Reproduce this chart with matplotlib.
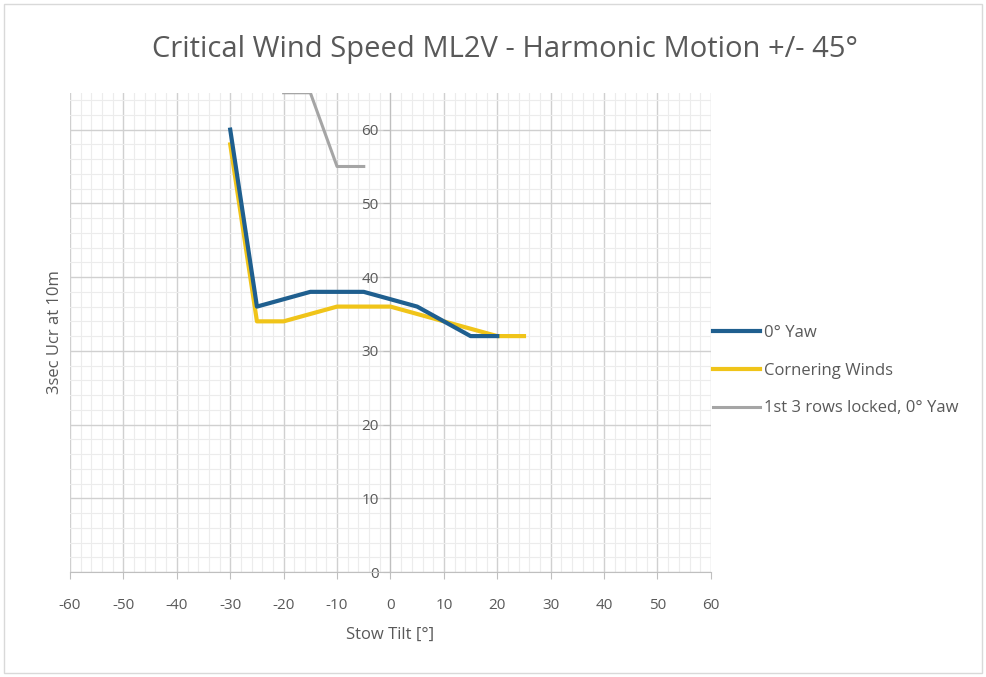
import matplotlib
matplotlib.use("Agg")
import matplotlib.pyplot as plt
from matplotlib.patches import Rectangle

plt.rcParams['font.family'] = ['Open Sans', 'DejaVu Sans']
plt.rcParams['axes.unicode_minus'] = False

yaw0_x = [-30, -25, -15, -5, 5, 15, 20]
yaw0_y = [60, 36, 38, 38, 36, 32, 32]
corner_x = [-30, -25, -20, -10, 0, 10, 20, 25]
corner_y = [58, 34, 34, 36, 36, 34, 32, 32]
locked_x = [-20, -15, -10, -5]
locked_y = [65, 65, 55, 55]

xticks = list(range(-60, 61, 10))
yticks = list(range(0, 61, 10))

fig = plt.figure(figsize=(9.86, 6.77), dpi=100)
fig.patches.append(Rectangle((0.004, 0.006), 0.992, 0.988, transform=fig.transFigure,
                             fill=False, edgecolor='#d9d9d9', linewidth=1))
ax = fig.add_axes([0.071, 0.155, 0.650, 0.708])

ax.plot(yaw0_x, yaw0_y, color='#1F5F8F', lw=3, label="0° Yaw", zorder=4)
ax.plot(corner_x, corner_y, color='#F0C419', lw=3, label="Cornering Winds", zorder=3)
ax.plot(locked_x, locked_y, color='#A5A5A5', lw=2.2, label="1st 3 rows locked, 0° Yaw", zorder=3)

ax.set_xlim(-60, 60)
ax.set_ylim(0, 65)
ax.set_xticks(xticks)
ax.set_yticks(yticks)
ax.set_xticks(range(-60, 61, 2), minor=True)
ax.set_yticks(range(0, 66, 2), minor=True)
ax.grid(which='major', color='#d0d0d0', lw=1)
ax.grid(which='minor', color='#ececec', lw=0.8)
ax.set_axisbelow(True)

for s in ['top', 'right']:
    ax.spines[s].set_visible(False)
ax.spines['left'].set_position(('data', 0))
ax.spines['bottom'].set_position(('data', 0))
ax.spines['left'].set_color('#bfbfbf')
ax.spines['bottom'].set_color('#bfbfbf')
ax.tick_params(which='major', colors='#bfbfbf', length=5, labelcolor='#595959', labelsize=11)
ax.tick_params(which='minor', length=0)
ax.tick_params(axis='x', pad=14)

ax.set_xlabel('Stow Tilt [°]', color='#595959', fontsize=12, labelpad=10)
fig.text(0.056, 0.51, '3sec Ucr at 10m', rotation=90, color='#595959', fontsize=12,
         ha='center', va='center')
fig.text(0.512, 0.927, 'Critical Wind Speed ML2V - Harmonic Motion +/- 45°',
         color='#595959', fontsize=21, ha='center', va='center')

leg = ax.legend(loc='center left', bbox_to_anchor=(0.98, 0.42), frameon=False,
                fontsize=12, labelcolor='#595959', handlelength=2.8,
                labelspacing=1.3, handletextpad=0.25)

fig.savefig('out.png', dpi=100)
